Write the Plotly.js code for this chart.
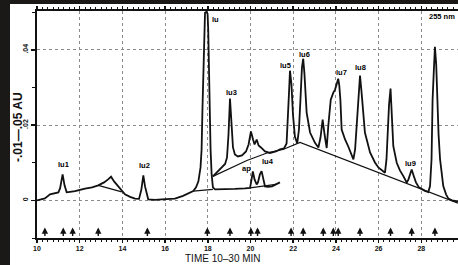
<!DOCTYPE html>
<html><head><meta charset="utf-8">
<script src="https://cdn.plot.ly/plotly-3.0.1.min.js"></script>
<style>
html,body{margin:0;padding:0;background:#1b1917;width:458px;height:265px;overflow:hidden}
#chart{position:absolute;left:10px;top:4px;width:448px;height:261px;background:#fff}
</style></head><body><div id="chart"></div>
<script>
// ---- data (time in min, absorbance in AU) ----
const lowerTime = [10.00,10.37,10.61,10.84,11.00,11.08,11.20,11.29,11.39,11.55,11.78,12.25,12.58,12.87,13.14,13.33,13.47,13.61,13.79,13.97,14.12,14.36,14.59,14.78,14.89,14.98,15.06,15.21,15.53,15.84,16.14,16.46,16.84,17.17,17.32,17.45,17.56,17.66,17.71,17.75,17.79,17.83,17.87,17.94,17.99,18.02,18.07,18.13,18.18,18.24,18.34,18.81,19.27,19.74,19.98,20.05,20.11,20.19,20.29,20.35,20.44,20.52,20.61,20.68,20.82,21.01,21.19,21.38];
const lowerAbs  = [0,0.00053,0.00159,0.00199,0.00212,0.00318,0.00689,0.00398,0.00212,0.00225,0.00246,0.0031,0.00345,0.00398,0.00477,0.00557,0.00628,0.00504,0.00371,0.00246,0.00159,0.00093,0.00045,0.0004,0.00292,0.00663,0.00371,0.00027,0.00013,0.00027,0.00034,0.00045,0.00119,0.00199,0.00246,0.00345,0.00504,0.00875,0.01352,0.02412,0.0356,0.04532,0.04982,0.05009,0.04956,0.04532,0.02677,0.01352,0.00689,0.00345,0.00292,0.00292,0.00305,0.00318,0.00331,0.00557,0.00769,0.00557,0.00424,0.00477,0.00689,0.00776,0.00557,0.00371,0.00358,0.00371,0.00424,0.00477];

const upperTime = [18.24,18.48,18.67,18.81,18.90,18.97,19.04,19.11,19.18,19.27,19.41,19.60,19.79,19.91,20.02,20.12,20.19,20.29,20.38,20.49,20.68,20.91,21.19,21.38,21.57,21.69,21.76,21.80,21.85,21.92,21.99,22.08,22.19,22.27,22.34,22.41,22.47,22.53,22.63,22.79,23.02,23.18,23.28,23.38,23.47,23.57,23.65,23.76,23.88,23.96,24.03,24.11,24.16,24.21,24.27,24.43,24.58,24.71,24.82,24.90,24.99,25.06,25.13,25.20,25.27,25.36,25.60,25.83,25.99,26.30,26.37,26.44,26.49,26.56,26.62,26.69,26.85,27.00,27.16,27.32,27.40,27.47,27.55,27.64,27.75,27.89,28.02,28.17,28.33,28.41,28.48,28.53,28.59,28.64,28.70,28.75,28.81,28.88,29.03,29.16,29.27,29.44,29.66,29.72];
const upperAbs  = [0.00636,0.00769,0.00875,0.00967,0.0114,0.01749,0.02703,0.02014,0.01405,0.01219,0.01166,0.01193,0.01299,0.01484,0.01829,0.01617,0.01484,0.01617,0.01458,0.01405,0.01299,0.01259,0.01299,0.01352,0.01378,0.0151,0.02147,0.02809,0.03445,0.03074,0.02279,0.01696,0.0151,0.01882,0.02677,0.03525,0.03763,0.03339,0.02332,0.01802,0.01529,0.01405,0.0167,0.02147,0.01749,0.01391,0.02014,0.02677,0.02862,0.02942,0.03074,0.03233,0.03048,0.02677,0.01882,0.01617,0.01431,0.01219,0.01087,0.01352,0.02147,0.02809,0.03313,0.02889,0.02279,0.01802,0.01272,0.01007,0.00875,0.00734,0.01087,0.02014,0.02544,0.02968,0.02279,0.01439,0.00999,0.00795,0.00644,0.00469,0.00557,0.00689,0.00822,0.00663,0.00477,0.00345,0.00292,0.00252,0.0022,0.00379,0.01087,0.02677,0.03472,0.04081,0.03604,0.02677,0.01749,0.01087,0.00379,0.00159,0.00045,0,-0.00019,-0.00027];

// integration baselines (segments separated by null)
const baseTime = [12.87,13.97,null,17.32,18.24,null,19.98,21.19,null,18.24,19.83,20.77,21.52,22.32,29.72];
const baseAbs  = [0.00398,0.00225,null,0.00246,0.00292,null,0.00331,0.00424,null,0.00636,0.0106,0.01259,0.01352,0.01537,-0.00072];

// peak labels
const peakNames = ['lu1','lu2','lu','lu3','ap','lu4','lu5','lu6','lu7','lu8','lu9'];
const peakTime  = [11.23,15.02,18.38,19.13,19.79,20.83,21.62,22.52,24.27,25.14,27.50];
const peakAbs   = [0.00954,0.00922,0.04795,0.0286,0.00856,0.0104,0.0359,0.0387,0.0339,0.0354,0.00975];

// event marks (arrows on the time axis)
const eventTimes = [10.37,11.23,11.67,12.87,15.17,17.98,19.04,20.02,20.33,21.90,22.47,23.41,23.88,24.11,25.13,26.56,27.55,28.64];

// tick labels
const xTickVals = [10,12,14,16,18,20,22,24,26,28];
const yTickVals = [0,0.02,0.04];
const yTickText = ['0','.02','.04'];

// ---- drawing ----
const INK = '#111111';
const FONT = 'Liberation Sans, Arial, sans-serif';
const ARROW_TIP = -0.0072;

const traces = [
  {x: lowerTime, y: lowerAbs, mode:'lines', line:{color:INK, width:1.8}, hoverinfo:'skip'},
  {x: upperTime, y: upperAbs, mode:'lines', line:{color:INK, width:1.8}, hoverinfo:'skip'},
  {x: baseTime, y: baseAbs, mode:'lines', line:{color:INK, width:1.2}, connectgaps:false, hoverinfo:'skip'}
];

const annotations = [];
peakNames.forEach((n,i)=>annotations.push({
  x: peakTime[i], y: peakAbs[i], xref:'x', yref:'y', text:n, showarrow:false,
  font:{family:FONT, size:7.5, color:'#000000', weight:'bold'}
}));
eventTimes.forEach(t=>annotations.push({
  x: t, y: ARROW_TIP, xref:'x', yref:'y', text:'', showarrow:true,
  ax:0, ay:10, arrowhead:2, arrowsize:0.9, arrowwidth:1.4, arrowcolor:INK, standoff:0
}));
annotations.push({xref:'paper', yref:'paper', x:(457-37)/421, y:(238-17)/227, xanchor:'right', yanchor:'middle',
  text:'255 nm', showarrow:false, font:{family:FONT, size:7.5, color:'#000000', weight:'bold'}});
annotations.push({xref:'paper', yref:'paper', x:(223-37)/421, y:(238-252)/227, xanchor:'center', yanchor:'top',
  borderpad:0, text:'TIME 10–30 MIN', showarrow:false, font:{family:FONT, size:10, color:INK}});
annotations.push({xref:'paper', yref:'paper', x:(18-37)/421, y:(238-127)/227, xanchor:'center', yanchor:'middle',
  text:'-.01—.05 AU', textangle:-90, showarrow:false, font:{family:FONT, size:12, color:INK, weight:'bold'}});

const layout = {
  width:448, height:261,
  margin:{l:27, r:0, t:7, b:27, pad:0},
  paper_bgcolor:'#ffffff', plot_bgcolor:'#ffffff',
  showlegend:false,
  xaxis:{range:[10,29.72], tickmode:'array', tickvals:xTickVals, ticks:'outside', ticklen:3, tickwidth:1.5, tickcolor:INK,
    showline:true, linecolor:INK, linewidth:2, mirror:'allticks',
    showgrid:true, gridcolor:'#8a8a8a', griddash:'dot', gridwidth:1, zeroline:false,
    tickfont:{family:FONT, size:7, color:INK, weight:'bold'}, ticklabelstandoff:0,
    minor:{dtick:0.25, tick0:10, ticks:'outside', ticklen:2, tickwidth:1, tickcolor:INK, showgrid:false}},
  yaxis:{range:[-0.01,0.0503], tickmode:'array', tickvals:yTickVals, ticktext:yTickText, tickangle:-90,
    ticks:'outside', ticklen:4, tickwidth:1.5, tickcolor:INK,
    showline:true, linecolor:INK, linewidth:2, mirror:false,
    showgrid:true, gridcolor:'#8a8a8a', griddash:'dot', gridwidth:1, zeroline:false,
    tickfont:{family:FONT, size:7, color:INK, weight:'bold'},
    minor:{dtick:0.01, tick0:0, ticks:'outside', ticklen:3, tickwidth:1, tickcolor:INK, showgrid:false}},
  annotations: annotations
};

Plotly.newPlot('chart', traces, layout, {staticPlot:true, displayModeBar:false});
</script></body></html>
